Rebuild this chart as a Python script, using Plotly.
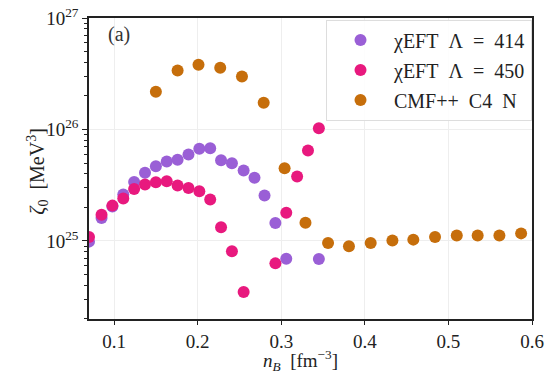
import plotly.graph_objects as go

# chiEFT Lambda = 414
x414 = [0.070, 0.085, 0.098, 0.111, 0.124, 0.137, 0.150, 0.163, 0.176, 0.189,
        0.202, 0.215, 0.228, 0.241, 0.255, 0.268, 0.280, 0.293, 0.306, 0.345]
logy414 = [24.994, 25.207, 25.31, 25.416, 25.528, 25.611, 25.670, 25.712, 25.728, 25.775,
           25.827, 25.832, 25.724, 25.697, 25.632, 25.566, 25.407, 25.162, 24.841, 24.838]

# chiEFT Lambda = 450
x450 = [0.070, 0.085, 0.098, 0.111, 0.124, 0.137, 0.150, 0.163, 0.176, 0.189,
        0.202, 0.215, 0.228, 0.241, 0.255, 0.293, 0.306, 0.319, 0.332, 0.345]
logy450 = [25.036, 25.236, 25.317, 25.380, 25.467, 25.506, 25.527, 25.535, 25.497, 25.476,
           25.446, 25.371, 25.124, 24.907, 24.543, 24.799, 25.254, 25.578, 25.811, 26.012]

# CMF++ C4 N
xcmf = [0.150, 0.176, 0.201, 0.227, 0.253, 0.279, 0.304, 0.329, 0.356, 0.381,
        0.407, 0.433, 0.458, 0.484, 0.510, 0.535, 0.561, 0.587]
logycmf = [26.339, 26.530, 26.581, 26.554, 26.476, 26.240, 25.652, 25.163, 24.982, 24.952,
           24.982, 25.005, 25.012, 25.036, 25.050, 25.048, 25.050, 25.068]

names = ["χEFT\u2002Λ\u2002=\u2002414", "χEFT\u2002Λ\u2002=\u2002450", "CMF++\u2002C4\u2002N"]
colors = ["#9a5fd6", "#e8197e", "#c66e0b"]

FONT = "Liberation Serif, DejaVu Serif, serif"

fig = go.Figure()
for i, (xs, ly, nm, c) in enumerate([(x414, logy414, names[0], colors[0]),
                                     (x450, logy450, names[1], colors[1]),
                                     (xcmf, logycmf, names[2], colors[2])]):
    fig.add_trace(go.Scatter(
        x=xs, y=[10.0 ** v for v in ly], mode="markers", name=nm,
        legendgroup="g%d" % i,
        marker=dict(color=c, size=12, line=dict(width=0)),
    ))

fig.add_annotation(text="(a)", xref="paper", yref="paper", x=0.038, y=0.99,
                   xanchor="left", yanchor="top", showarrow=False,
                   font=dict(size=20, color="#333333", family=FONT))

# axis titles as annotations for precise placement
fig.add_annotation(text="<i>n</i><sub><i>B</i></sub>\u2002[fm<sup>−3</sup>]",
                   xref="paper", yref="paper", x=0.477, y=-0.137,
                   xanchor="center", yanchor="middle", showarrow=False,
                   font=dict(size=19, color="#222222", family=FONT))
fig.add_annotation(text="<i>ζ</i><sub>0</sub>\u2002[MeV<sup>3</sup>]",
                   xref="paper", yref="paper", x=-0.117, y=0.49,
                   xanchor="center", yanchor="middle", showarrow=False, textangle=-90,
                   font=dict(size=20, color="#222222", family=FONT))

minor_vals = [float(m) * 10.0 ** e for e in (24, 25, 26) for m in range(2, 10)]

fig.update_layout(
    width=548, height=374,
    margin=dict(l=89, r=16, t=18, b=55, autoexpand=False),
    paper_bgcolor="white", plot_bgcolor="white",
    font=dict(family=FONT, size=20, color="#222222"),
    showlegend=True,
    legend=dict(x=1.0, y=0.995, xanchor="right", yanchor="top",
                bgcolor="rgba(255,255,255,0.85)", bordercolor="#dddddd", borderwidth=1,
                font=dict(size=20, family=FONT, color="#222222"),
                itemwidth=57, tracegroupgap=1),
    xaxis=dict(range=[0.07, 0.6], tickvals=[0.1, 0.2, 0.3, 0.4, 0.5, 0.6],
               ticktext=["0.1", "0.2", "0.3", "0.4", "0.5", "0.6"],
               tickfont=dict(size=19), automargin=False,
               ticks="outside", ticklen=4, tickwidth=1.2, tickcolor="#222222",
               showline=True, linecolor="#222222", linewidth=1.5, mirror=True,
               showgrid=True, gridcolor="#eeeeee", gridwidth=1, zeroline=False),
    yaxis=dict(type="log", range=[24.3, 27],
               tickvals=[1e25, 1e26, 1e27],
               ticktext=["10<sup>25</sup>", "10<sup>26</sup>", "10<sup>27</sup>"],
               tickfont=dict(size=19), automargin=False,
               ticks="outside", ticklen=5, tickwidth=1.2, tickcolor="#222222",
               minor=dict(ticks="outside", ticklen=3, tickcolor="#222222", showgrid=False,
                          tickvals=minor_vals),
               showline=True, linecolor="#222222", linewidth=1.5, mirror=True,
               showgrid=True, gridcolor="#eeeeee", gridwidth=1, zeroline=False),
)

fig.write_html("out.html")
